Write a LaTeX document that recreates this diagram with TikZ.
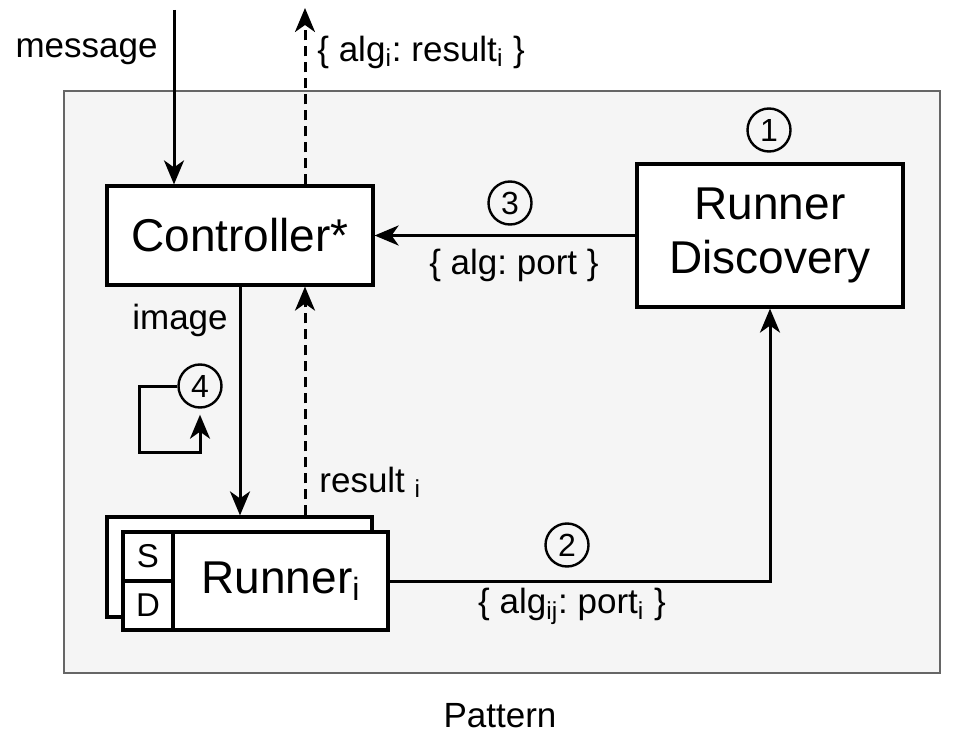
\documentclass[tikz,border=0pt]{standalone}
\usepackage{fontspec}
\setmainfont{Liberation Sans}
\usetikzlibrary{arrows.meta}
\definecolor{contfill}{HTML}{F5F5F5}
\definecolor{contdraw}{HTML}{666666}
\frenchspacing
\begin{document}
\begin{tikzpicture}[x=0.5pt,y=-0.5pt,
  box/.style={draw=black,line width=1.6pt,fill=white,inner sep=0pt,font=\fontsize{23}{27}\selectfont,align=center},
  cell/.style={draw=black,line width=1.6pt,fill=white,inner sep=0pt,minimum width=25pt,minimum height=24.5pt,font=\fontsize{16.5}{19}\selectfont},
  lbl/.style={font=\fontsize{17.5}{20}\selectfont,inner sep=0pt},
  num/.style={circle,draw=black,line width=1.2pt,minimum size=21.5pt,inner sep=0pt,font=\fontsize{16}{18}\selectfont},
  arr/.style={line width=1.5pt,-{Stealth[length=12pt,width=10pt,inset=3.5pt]}},
  dsh/.style={dash pattern=on 5pt off 3pt}
]
\useasboundingbox (0,0) rectangle (974,754);
% container
\node[draw=contdraw,fill=contfill,line width=1.1pt,minimum width=438pt,minimum height=291pt,inner sep=0pt] (cont) at (502,382) {};
\node[lbl] (pattern) at (500,716) {Pattern};
% main boxes
\node[box,minimum width=133pt,minimum height=49.5pt] (ctrl) at (240,235.5) {Controller*};
\node[box,minimum width=133pt,minimum height=71.5pt] (rd) at (770,235.5) {Runner\\Discovery};
\node[box,minimum width=132.5pt,minimum height=50pt] (back) at (239.5,567) {};
\node[box,minimum width=132.5pt,minimum height=49pt] (front) at (255.5,581) {};
\node[cell] (s) at (148,556.5) {S};
\node[cell] (d) at (148,605.5) {D};
\node[font=\fontsize{23}{27}\selectfont,inner sep=0pt] (rtext) at (281,581) {Runner\textsubscript{i}};
% numbers
\node[num] (c1) at (769,130) {1};
\node[num] (c2) at (567,545) {2};
\node[num] (c3) at (510,203) {3};
\node[num] (c4) at (200,386) {4};
% free ends
\coordinate (msgtop) at (174,10);
\coordinate (outtop) at (305,8);
\coordinate (loopa) at (139,452);
% connectors
\draw[arr] (msgtop) -- (msgtop |- ctrl.north);
\draw[arr,dsh] (outtop |- ctrl.north) -- (outtop);
\draw[arr] (rd.west) -- (ctrl.east);
\draw[arr] (ctrl.south) -- (ctrl.south |- back.north);
\draw[arr,dsh] (outtop |- back.north) -- (outtop |- ctrl.south);
\draw[arr] (front.east) -| (rd.south);
\draw[arr,shorten >=3pt] (c4.west) -| (loopa) -| (c4.south);
% labels
\node[lbl,anchor=east] (lmsg) at (158,52) {message};
\node[lbl,anchor=west] (lout) at (317,52) {\{ alg\textsubscript{i}: result\textsubscript{i} \}};
\node[lbl] (lport) at (514,265) {\{ alg: port \}};
\node[lbl] (limg) at (180,320) {image};
\node[lbl,anchor=base west] (lres) at (319,492) {result \textsubscript{i}};
\node[lbl] (lij) at (572,606) {\{ alg\textsubscript{ij}: port\textsubscript{i} \}};
\end{tikzpicture}
\end{document}
